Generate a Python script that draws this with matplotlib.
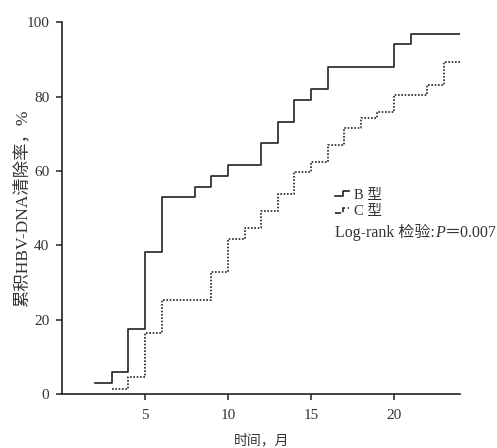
"""
Cumulative HBV-DNA clearance rate by genotype (B vs C), Kaplan-Meier style step plot.
"""
import matplotlib
matplotlib.use("Agg")
import matplotlib.pyplot as plt
from matplotlib.lines import Line2D
from matplotlib.legend_handler import HandlerBase

plt.rcParams['font.family'] = ['Liberation Serif', 'Noto Sans CJK SC']

# Data (months, cumulative clearance %)
b_months = [2, 3, 4, 5, 6, 8, 9, 10, 12, 13, 14, 15, 16, 20, 21, 24]
b_rate = [2.9, 5.9, 17.6, 38.1, 52.9, 55.7, 58.7, 61.7, 67.4, 73.2,
          79.2, 82.0, 88.0, 94.0, 96.9, 96.9]

c_months = [3, 4, 5, 6, 9, 10, 11, 12, 13, 14, 15, 16, 17, 18, 19, 20, 22, 23, 24]
c_rate = [1.4, 4.6, 16.4, 25.3, 32.7, 41.7, 44.7, 49.3, 53.8, 59.6, 62.5,
          67.1, 71.5, 74.3, 75.9, 80.5, 83.2, 89.2, 89.2]

x_ticks = [5, 10, 15, 20]
y_ticks = [0, 20, 40, 60, 80, 100]
labels = ['B 型', 'C 型']

LINE = '#222222'
TEXT = '#333333'


class StepHandler(HandlerBase):
    """Draw a small step shape as the legend icon."""

    def create_artists(self, legend, orig_handle, xdescent, ydescent,
                       width, height, fontsize, trans):
        x0 = -xdescent
        xs = [x0, x0 + width * 0.55, x0 + width * 0.55, x0 + width]
        ys = [height * 0.25, height * 0.25, height * 0.75, height * 0.75]
        line = Line2D(xs, ys, color=orig_handle.get_color(),
                      linestyle=orig_handle.get_linestyle(),
                      linewidth=orig_handle.get_linewidth())
        line.set_transform(trans)
        return [line]


fig = plt.figure(figsize=(4.97, 4.48), dpi=100)
ax = fig.add_axes([0.1247, 0.1205, 0.8016, 0.830])

lb, = ax.step(b_months, b_rate, where='post', color=LINE, linewidth=1.2)
lc, = ax.step(c_months, c_rate, where='post', color=LINE, linewidth=1.2,
              linestyle=(0, (1.0, 1.0)))

ax.set_xlim(0, 24)
ax.set_ylim(0, 100)
ax.set_xticks(x_ticks)
ax.set_yticks(y_ticks)

for side in ['top', 'right']:
    ax.spines[side].set_visible(False)
for side in ['left', 'bottom']:
    ax.spines[side].set_linewidth(1.2)
    ax.spines[side].set_color(LINE)

ax.tick_params(axis='x', direction='out', length=4, width=1.1, pad=7,
               labelsize=11, colors=LINE, labelcolor=TEXT)
ax.tick_params(axis='y', direction='out', length=4, width=1.1, pad=5,
               labelsize=11, colors=LINE, labelcolor=TEXT)

ax.set_xlabel('时间，月', fontsize=10, color=TEXT)
ax.xaxis.set_label_coords(0.5, -0.105)
ax.set_ylabel('累积HBV-DNA清除率，%', fontsize=12.5, color=TEXT)
ax.yaxis.set_label_coords(-0.08, 0.5)

ax.legend([lb, lc], labels, handler_map={Line2D: StepHandler()},
          loc='upper left', bbox_to_anchor=(0.685, 0.553), frameon=False,
          fontsize=10.5, handlelength=1.0, handletextpad=0.3,
          labelspacing=0.25, borderpad=0, borderaxespad=0,
          labelcolor=TEXT)

# Log-rank note, built from pieces so that P can be italic
t1 = ax.text(0.685, 0.422, 'Log-rank 检验:', transform=ax.transAxes,
             fontsize=11.5, color=TEXT, ha='left', va='baseline')
t2 = ax.annotate('P', xy=(1, 0), xycoords=t1, fontsize=11.5, color=TEXT,
                 style='italic', ha='left', va='bottom')
ax.annotate('＝0.007', xy=(1, 0), xycoords=t2, fontsize=11.5, color=TEXT,
            ha='left', va='bottom')

fig.savefig('out.png', dpi=100)
